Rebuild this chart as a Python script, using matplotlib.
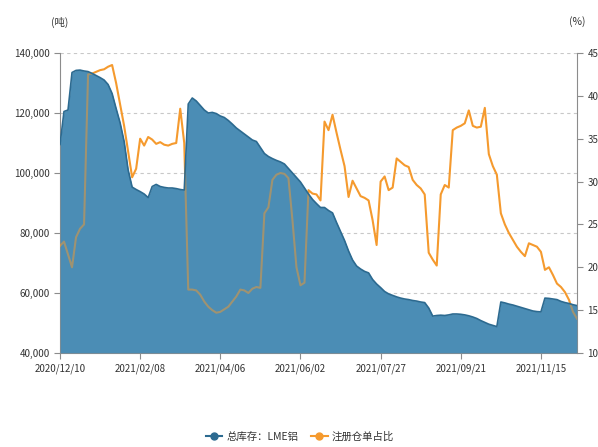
import matplotlib
matplotlib.use('Agg')
import matplotlib.pyplot as plt
from matplotlib.lines import Line2D

plt.rcParams['font.family'] = ['Noto Sans CJK SC', 'DejaVu Sans']

# LME aluminium: total stock (t) and share of warranted stock (%), sampled every 2 trading days
stock = [109500, 120500, 121000, 133500, 134200, 134300, 134000, 133800, 133200, 132500,
         131800, 131000, 129500, 126500, 121500, 116700, 110500, 101000, 95300, 94500,
         93800, 93000, 91800, 95500, 96200, 95500, 95200, 95000, 95000, 94800,
         94500, 94300, 123000, 125000, 124000, 122500, 121000, 120000, 120200, 119800,
         119000, 118500, 117500, 116300, 115000, 114000, 113000, 112000, 111000, 110500,
         108500, 106500, 105500, 104800, 104200, 103700, 103000, 101500, 100000, 98500,
         97000, 95000, 93000, 91200, 89800, 88500, 88500, 87500, 86700, 83500,
         80500, 77500, 74000, 71000, 69000, 68000, 67200, 66700, 64500, 63000,
         61800, 60500, 59700, 59200, 58700, 58300, 58000, 57800, 57500, 57300,
         57000, 56800, 55000, 52300, 52500, 52600, 52500, 52700, 53000, 53000,
         52900, 52700, 52400, 52000, 51500, 50800, 50200, 49600, 49200, 48800,
         57000, 56700, 56300, 56000, 55600, 55200, 54800, 54400, 54000, 53800,
         53700, 58300, 58200, 58000, 57800, 57200, 56800, 56500, 56100, 55800]

warrant_pct = [22.5, 23.0, 21.5, 20.0, 23.5, 24.5, 25.0, 42.5, 42.6, 42.8,
               43.0, 43.1, 43.4, 43.6, 41.5, 39.0, 36.5, 33.5, 30.5, 31.5,
               35.0, 34.2, 35.2, 34.9, 34.4, 34.6, 34.3, 34.2, 34.4, 34.5,
               38.5, 34.5, 17.4, 17.4, 17.3, 16.8, 16.0, 15.4, 15.0, 14.7,
               14.8, 15.1, 15.4, 16.0, 16.6, 17.4, 17.3, 17.0, 17.5, 17.7,
               17.6, 26.3, 27.0, 30.2, 30.8, 31.0, 30.9, 30.4, 25.5, 20.0,
               17.9, 18.2, 29.0, 28.6, 28.5, 27.8, 37.0, 36.0, 37.8, 35.7,
               33.7, 31.8, 28.2, 30.1, 29.2, 28.3, 28.1, 27.8, 25.5, 22.6,
               30.0, 30.6, 29.0, 29.3, 32.7, 32.3, 31.9, 31.7, 30.2, 29.6,
               29.2, 28.5, 21.7, 20.9, 20.2, 28.5, 29.6, 29.3, 36.0, 36.3,
               36.5, 36.8, 38.3, 36.5, 36.3, 36.4, 38.6, 33.2, 31.8, 30.8,
               26.3, 25.0, 24.0, 23.2, 22.4, 21.8, 21.3, 22.8, 22.6, 22.4,
               21.8, 19.7, 20.0, 19.1, 18.1, 17.7, 17.1, 16.2, 14.8, 14.0]

date_labels = ['2020/12/10', '2021/02/08', '2021/04/06', '2021/06/02',
               '2021/07/27', '2021/09/21', '2021/11/15']
tick_step = 20

blue = '#4b8db5'
blue_edge = '#2c6a90'
orange = '#f59a2e'
text_c = '#333333'
spine_c = '#8c8c8c'

x = list(range(len(stock)))

fig = plt.figure(figsize=(5.98, 4.47), dpi=100)
ax = fig.add_axes([60 / 598, 1 - 353 / 447, 517 / 598, 300 / 447])
ax2 = ax.twinx()

# opaque area first, the ratio line over it, then a translucent copy of the
# area on top so the line shows through muted where it crosses the stock
ax.fill_between(x, stock, 40000, color=blue, lw=0)
ax2.plot(x, warrant_pct, color=orange, lw=1.5, zorder=2)
ax2.fill_between(x, stock, 40000, color=blue, lw=0, alpha=0.5,
                 transform=ax.transData, zorder=3)
ax2.plot(x, stock, color=blue_edge, lw=1.2, transform=ax.transData, zorder=4)

ax.set_xlim(0, len(x) - 1)
ax.set_ylim(40000, 140000)
ax2.set_ylim(10, 45)

ax.set_yticks(range(40000, 140001, 20000))
ax.set_yticklabels([f'{v:,}' for v in range(40000, 140001, 20000)])
ax2.set_yticks(range(10, 46, 5))
ax.set_xticks(range(0, len(x), tick_step))
ax.set_xticklabels(date_labels)

# dashed horizontal grid on the left scale
for v in range(60000, 140001, 20000):
    ax.axhline(v, color='#c8c8c8', lw=0.8, ls=(0, (3, 3)), zorder=0)

for a in (ax, ax2):
    a.spines['top'].set_visible(False)
    for s in ('left', 'right', 'bottom'):
        a.spines[s].set_color(spine_c)
    a.tick_params(colors=spine_c, labelcolor=text_c, labelsize=7, length=4, width=0.8)
ax.spines['right'].set_visible(False)
ax2.spines['left'].set_visible(False)
ax2.spines['bottom'].set_visible(False)

fig.text(60 / 598, 1 - 22 / 447, '(吨)', ha='center', va='center', fontsize=7.5, color=text_c)
fig.text(577 / 598, 1 - 22 / 447, '(%)', ha='center', va='center', fontsize=7.5, color=text_c)

handles = [Line2D([], [], color=blue_edge, marker='o', markersize=5, lw=1.5),
           Line2D([], [], color=orange, marker='o', markersize=5, lw=1.5)]
fig.legend(handles, ['总库存：LME铝', '注册仓单占比'], loc='center',
           bbox_to_anchor=(300 / 598, 1 - 437 / 447), ncol=2, frameon=False,
           fontsize=7.5, handlelength=1.6, columnspacing=1.2, handletextpad=0.4,
           labelcolor=text_c)

fig.savefig('out.png', dpi=100)
